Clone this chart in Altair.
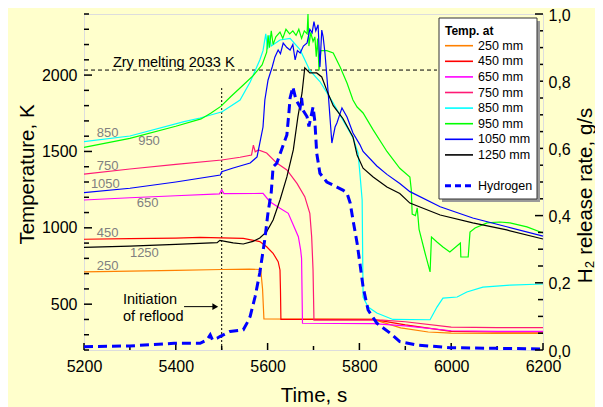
import altair as alt
import pandas as pd

# ---------------- data ----------------
t250 = [5200, 5300, 5400, 5500, 5560, 5585, 5589, 5592, 5700, 5830, 5890, 5950, 6000, 6100, 6200]
T250 = [711, 716, 722, 727, 730, 727, 600, 403, 402, 400, 345, 318, 310, 309, 309]

t450 = [5200, 5300, 5400, 5453, 5547, 5583, 5598, 5612, 5623, 5627, 5628, 5629, 5830, 5900, 6000, 6100, 6200]
T450 = [925, 929, 933, 938, 931, 910, 876, 833, 778, 724, 600, 401, 400, 365, 322, 318, 318]

t650 = [5200, 5300, 5400, 5495, 5500, 5505, 5590, 5605, 5627, 5645, 5656, 5667, 5672, 5674, 5676,
        5830, 5900, 6000, 6100, 6200]
T650 = [1182, 1197, 1210, 1222, 1248, 1224, 1225, 1171, 1128, 1095, 1018, 942, 855, 800, 375,
        373, 358, 326, 322, 322]

t750 = [5200, 5300, 5400, 5500, 5540, 5565, 5569, 5573, 5580, 5598, 5620, 5642, 5664, 5681, 5692,
        5696, 5699, 5701, 5850, 5900, 6000, 6100, 6200]
T750 = [1352, 1385, 1415, 1444, 1462, 1477, 1542, 1498, 1510, 1490, 1424, 1379, 1291, 1204, 1095,
        942, 724, 396, 396, 385, 350, 346, 346]

t850 = [5200, 5300, 5418, 5453, 5501, 5540, 5562, 5583, 5590, 5596, 5600, 5604, 5608, 5627, 5649,
        5671, 5692, 5714, 5743, 5764, 5786, 5797, 5801, 5806, 5808, 5819, 5838, 5873, 5954, 5969,
        5982, 6013, 6034, 6069, 6128, 6200]
T850 = [1564, 1601, 1695, 1719, 1760, 1837, 1955, 2099, 2160, 2270, 2170, 2260, 2190, 2230, 2240,
        2165, 2030, 1958, 1817, 1706, 1590, 1490, 1360, 1182, 547, 481, 442, 400, 398, 481,
        540, 547, 580, 612, 625, 632]

t950 = [5200, 5300, 5400, 5455, 5476, 5498, 5520, 5547, 5568, 5588, 5598, 5601, 5604, 5608, 5612,
        5618, 5627, 5633, 5640, 5648, 5655, 5662, 5668, 5674, 5680, 5686, 5688, 5690, 5694, 5699,
        5703, 5706, 5709, 5712, 5716, 5729, 5743, 5758, 5773, 5786, 5795, 5808, 5830, 5860, 5888,
        5910, 5913, 5915, 5922, 5926, 5930, 5943, 5954, 5957, 5969, 5982, 5997, 6015, 6020, 6021,
        6037, 6041, 6052, 6078, 6106, 6128, 6165, 6200]
T950 = [1527, 1586, 1665, 1713, 1750, 1795, 1860, 1935, 1995, 2066, 2150, 2260, 2180, 2290, 2200,
        2250, 2282, 2240, 2300, 2270, 2290, 2260, 2300, 2240, 2290, 2270, 2400, 2190, 2280, 2220,
        2250, 2120, 2240, 2030, 2160, 2160, 2145, 2053, 1948, 1837, 1791, 1752, 1641, 1500, 1390,
        1333, 1250, 1090, 1080, 1130, 990, 835, 711, 940, 907, 874, 842, 887, 900, 809,
        809, 973, 999, 1032, 1038, 1032, 1006, 966]

t1050 = [5200, 5300, 5400, 5497, 5500, 5525, 5562, 5577, 5583, 5590, 5594, 5601, 5610, 5616, 5623,
         5628, 5634, 5642, 5649, 5655, 5660, 5665, 5671, 5678, 5686, 5692, 5697, 5701, 5705, 5710,
         5714, 5718, 5721, 5725, 5732, 5740, 5747, 5751, 5762, 5773, 5786, 5801, 5808, 5838, 5860,
         5888, 5910, 5976, 6047, 6121, 6200]
T1050 = [1230, 1259, 1300, 1346, 1367, 1392, 1424, 1464, 1555, 1660, 1837, 1968, 2053, 2119, 2164,
         2140, 2210, 2180, 2164, 2200, 2099, 2160, 2145, 2190, 2210, 2300, 2276, 2350, 2290, 2330,
         2053, 2295, 2250, 2145, 1883, 1555, 1660, 1686, 1785, 1726, 1621, 1545, 1500, 1405, 1350,
         1290, 1237, 1138, 1064, 1007, 946]

t1250 = [5200, 5300, 5400, 5490, 5496, 5510, 5525, 5547, 5568, 5583, 5598, 5612, 5627, 5642, 5656,
         5666, 5675, 5681, 5692, 5707, 5718, 5729, 5743, 5764, 5786, 5795, 5808, 5830, 5860, 5888,
         5910, 5976, 6047, 6121, 6200]
T1250 = [872, 880, 892, 903, 918, 910, 901, 894, 911, 933, 975, 1051, 1182, 1333, 1510,
         1726, 1883, 2047, 2014, 2014, 1988, 1900, 1800, 1716, 1595, 1477, 1390, 1333, 1267, 1225,
         1162, 1084, 1032, 986, 927]

t_h2 = [5200, 5300, 5396, 5453, 5468, 5475, 5480, 5490, 5496, 5518, 5547, 5555, 5562, 5573, 5583,
        5594, 5601, 5608, 5612, 5620, 5634, 5642, 5646, 5649, 5655, 5662, 5671, 5674, 5677, 5686,
        5690, 5699, 5703, 5707, 5714, 5729, 5751, 5764, 5773, 5780, 5786, 5795, 5801, 5808, 5819,
        5838, 5867, 5888, 5925, 5997, 6200]
h2 = [0.010, 0.012, 0.020, 0.020, 0.030, 0.045, 0.030, 0.035, 0.040, 0.055, 0.060, 0.080, 0.100, 0.160, 0.230,
      0.330, 0.410, 0.470, 0.545, 0.556, 0.610, 0.640, 0.700, 0.750, 0.783, 0.744, 0.723, 0.750, 0.714, 0.694,
      0.665, 0.723, 0.680, 0.586, 0.526, 0.500, 0.485, 0.476, 0.467, 0.437, 0.387, 0.318, 0.259, 0.188, 0.119,
      0.080, 0.050, 0.025, 0.015, 0.007, 0.003]

series_names = ["250 mm", "450 mm", "650 mm", "750 mm", "850 mm", "950 mm", "1050 mm", "1250 mm"]
series_colors = ["#FF8000", "#FF0000", "#FF00FF", "#FF1A75", "#00FFFF", "#00FF00", "#0000FF", "#000000"]
series_t = [t250, t450, t650, t750, t850, t950, t1050, t1250]
series_T = [T250, T450, T650, T750, T850, T950, T1050, T1250]

# curve annotations
lab_text = ["850", "950", "750", "1050", "650", "450", "1250", "250"]
lab_t = [5228, 5318, 5228, 5215, 5315, 5228, 5300, 5228]
lab_T = [1621, 1569, 1405, 1287, 1163, 966, 835, 750]

x_labels = [5200, 5400, 5600, 5800, 6000, 6200]
x_ticks = list(range(5200, 6201, 100))
T_labels = [500, 1000, 1500, 2000]
T_ticks = list(range(200, 2401, 100))
h_labels = [0.0, 0.2, 0.4, 0.6, 0.8, 1.0]
h_ticks = [round(0.05 * i, 2) for i in range(21)]

melt_T = 2033
reflood_t = 5500

# ---------------- tables ----------------
rows = []
for name, col, ts, Ts in zip(series_names, series_colors, series_t, series_T):
    for i, (a, b) in enumerate(zip(ts, Ts)):
        rows.append({"t": a, "T": b, "series": name, "color": col, "idx": i})
temp_df = pd.DataFrame(rows)
h2_df = pd.DataFrame({"t": t_h2, "h": h2, "idx": list(range(len(h2)))})
lab_df = pd.DataFrame({"t": lab_t, "T": lab_T, "label": lab_text})

W, H = 459, 336
FONT = "Liberation Sans"

X_SCALE = alt.Scale(domain=[5200, 6200], nice=False, zero=False)
T_SCALE = alt.Scale(domain=[200, 2400], nice=False, zero=False)
H_SCALE = alt.Scale(domain=[0, 1], nice=False, zero=False)

common_axis = dict(domain=False, ticks=False, tickSize=0, grid=False, labelFontSize=16,
                   labelColor="black", labelFont=FONT, titleFont=FONT, titleFontSize=20.5,
                   titleFontWeight="normal", titleColor="black", titleBaseline="alphabetic",
                   titleAlign="center", labelFlush=False)

X_AXIS = alt.Axis(values=x_labels, format="d", title="Time, s", labelPadding=8,
                  titleX=W / 2, titleY=51, **common_axis)
T_AXIS = alt.Axis(values=T_labels, format="d", title="Temperature, K", labelPadding=7,
                  titleAngle=270, titleX=-51, titleY=160, **common_axis)
H_AXIS = alt.Axis(orient="right", values=h_labels,
                  labelExpr="replace(format(datum.value, '.1f'), '.', ',')",
                  title="H\u2082 release rate, g/s", labelPadding=5, labelOffset=1,
                  titleAngle=270, titleX=48, titleY=181, **common_axis)

X_ENC = alt.X("t:Q", scale=X_SCALE, axis=X_AXIS)
T_ENC = alt.Y("T:Q", scale=T_SCALE, axis=T_AXIS)
H_ENC = alt.Y("h:Q", scale=H_SCALE, axis=H_AXIS)

# ---------------- temperature layer ----------------
lines = alt.Chart(temp_df).mark_line(strokeWidth=1.2).encode(
    x=X_ENC, y=T_ENC, color=alt.Color("color:N", scale=None),
    detail="series:N", order=alt.Order("idx:Q"))

labels = alt.Chart(lab_df).mark_text(align="left", baseline="middle", fontSize=13,
                                     color="#808080", font=FONT).encode(
    x=X_ENC, y=T_ENC, text="label:N")

melt = alt.Chart(pd.DataFrame({"t": [5200], "t2": [5969], "T": [melt_T]})).mark_rule(
    color="black", strokeWidth=1, strokeDash=[4, 3]).encode(x=X_ENC, x2="t2:Q", y=T_ENC)
melt_txt = alt.Chart(pd.DataFrame({"t": [5263], "T": [2055], "txt": ["Zry melting 2033 K"]})).mark_text(
    align="left", baseline="alphabetic", fontSize=14.5, font=FONT, color="black").encode(
    x=X_ENC, y=T_ENC, text="txt:N")

reflood = alt.Chart(pd.DataFrame({"t": [reflood_t], "T": [200], "T2": [1915]})).mark_rule(
    color="black", strokeWidth=1, strokeDash=[2, 2]).encode(x=X_ENC, y=T_ENC, y2="T2:Q")
init_txt = alt.Chart(pd.DataFrame({"t": [5285, 5285], "T": [501, 390],
                                   "txt": ["Initiation", "of reflood"]})).mark_text(
    align="left", baseline="alphabetic", fontSize=14.5, font=FONT, color="black").encode(
    x=X_ENC, y=T_ENC, text="txt:N")
arrow = alt.Chart(pd.DataFrame({"t": [5418], "t2": [5486], "T": [484]})).mark_rule(
    color="black", strokeWidth=1).encode(x=X_ENC, x2="t2:Q", y=T_ENC)
arrow_head = alt.Chart(pd.DataFrame({"t": [5486], "T": [484]})).mark_point(
    shape="triangle-right", filled=True, color="black", size=45, opacity=1).encode(x=X_ENC, y=T_ENC)

ticks_T_df = pd.DataFrame({"T": T_ticks})
ticks_T_df["major"] = ticks_T_df["T"] % 500 == 0
lt_major = alt.Chart(ticks_T_df[ticks_T_df.major]).mark_rule(color="black", strokeWidth=1.5).encode(
    y=T_ENC, x=alt.value(0), x2=alt.value(8))
lt_minor = alt.Chart(ticks_T_df[~ticks_T_df.major]).mark_rule(color="black", strokeWidth=1.5).encode(
    y=T_ENC, x=alt.value(0), x2=alt.value(5))

ticks_x_df = pd.DataFrame({"t": x_ticks})
ticks_x_df["major"] = ticks_x_df["t"] % 200 == 0
xt_major = alt.Chart(ticks_x_df[ticks_x_df.major]).mark_rule(color="black", strokeWidth=1.5).encode(
    x=X_ENC, y=alt.value(H), y2=alt.value(H - 7))
xt_minor = alt.Chart(ticks_x_df[~ticks_x_df.major]).mark_rule(color="black", strokeWidth=1.5).encode(
    x=X_ENC, y=alt.value(H), y2=alt.value(H - 4))

temp_layer = alt.layer(melt, reflood, lines, labels, melt_txt, init_txt, arrow, arrow_head,
                       lt_major, lt_minor, xt_major, xt_minor)

# ---------------- hydrogen layer ----------------
h2_line = alt.Chart(h2_df).mark_line(strokeWidth=3, strokeDash=[9, 5], color="#0000FF").encode(
    x=X_ENC, y=H_ENC, order=alt.Order("idx:Q"))
ticks_h_df = pd.DataFrame({"h": h_ticks})
ticks_h_df["major"] = [i % 4 == 0 for i in range(len(h_ticks))]
rt_major = alt.Chart(ticks_h_df[ticks_h_df.major]).mark_rule(color="black", strokeWidth=1.5).encode(
    y=H_ENC, x=alt.value(W - 8), x2=alt.value(W))
rt_minor = alt.Chart(ticks_h_df[~ticks_h_df.major]).mark_rule(color="black", strokeWidth=1.5).encode(
    y=H_ENC, x=alt.value(W - 5), x2=alt.value(W))
h2_layer = alt.layer(h2_line, rt_major, rt_minor)

# ---------------- legend (drawn by hand, like the original box) ----------------
leg_df = pd.DataFrame({"label": series_names, "color": series_colors,
                       "ly": [31.7 + 15.6 * i for i in range(len(series_names))]})
one = pd.DataFrame({"a": [0]})
shadow = alt.Chart(one).mark_rect(color="#9a9a9a").encode(
    x=alt.value(358), x2=alt.value(456), y=alt.value(7), y2=alt.value(188))
box = alt.Chart(one).mark_rect(fill="white", stroke="#333333", strokeWidth=1).encode(
    x=alt.value(355), x2=alt.value(453), y=alt.value(4), y2=alt.value(185))
leg_title = alt.Chart(one).mark_text(align="left", baseline="middle", fontSize=12,
                                     fontWeight="bold", font=FONT, color="black").encode(
    x=alt.value(361), y=alt.value(17), text=alt.value("Temp. at"))
leg_lines = alt.Chart(leg_df).mark_rule(strokeWidth=1.6).encode(
    x=alt.value(361), x2=alt.value(389), y=alt.Y("ly:Q", scale=None, axis=None),
    color=alt.Color("color:N", scale=None))
leg_text = alt.Chart(leg_df).mark_text(align="left", baseline="middle", fontSize=12.5,
                                       font=FONT, color="black").encode(
    x=alt.value(394), y=alt.Y("ly:Q", scale=None, axis=None), text="label:N")
leg_h2_line = alt.Chart(one).mark_rule(strokeWidth=3, strokeDash=[6, 4], color="#0000FF").encode(
    x=alt.value(361), x2=alt.value(389), y=alt.value(171.7))
leg_h2_text = alt.Chart(one).mark_text(align="left", baseline="middle", fontSize=12.5,
                                       font=FONT, color="black").encode(
    x=alt.value(394), y=alt.value(171.7), text=alt.value("Hydrogen"))
legend_layer = alt.layer(shadow, box, leg_title, leg_lines, leg_text, leg_h2_line, leg_h2_text)

chart = alt.layer(temp_layer, h2_layer, legend_layer).resolve_scale(y="independent").properties(
    width=W, height=H,
    padding={"left": 76, "top": 6, "right": 52, "bottom": 57},
    autosize=alt.AutoSizeParams(type="none"),
    background="#FFFFCC",
).configure_view(stroke="black", strokeWidth=2).configure(font=FONT)

chart.save("out.html", embed_options={"renderer": "svg", "actions": False})
